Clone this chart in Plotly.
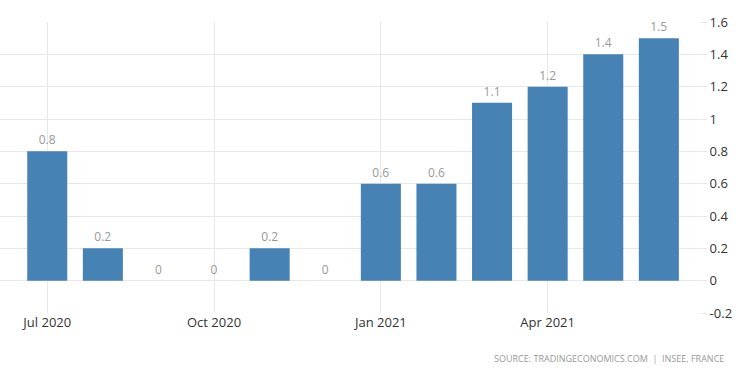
import plotly.graph_objects as go

months = ["Jul 2020", "Aug 2020", "Sep 2020", "Oct 2020", "Nov 2020", "Dec 2020",
          "Jan 2021", "Feb 2021", "Mar 2021", "Apr 2021", "May 2021", "Jun 2021"]
values = [0.8, 0.2, 0, 0, 0.2, 0, 0.6, 0.6, 1.1, 1.2, 1.4, 1.5]
x_ticks = ["Jul 2020", "Oct 2020", "Jan 2021", "Apr 2021"]
y_ticks = [-0.2, 0, 0.2, 0.4, 0.6, 0.8, 1, 1.2, 1.4, 1.6]

fig = go.Figure()
fig.add_trace(go.Bar(
    x=months, y=values,
    marker=dict(color="#4682B4", line=dict(width=0)),
    text=[f"{v:g}" for v in values],
    textposition="outside",
    cliponaxis=False,
    textfont=dict(color="#999999", size=12, family="Open Sans"),
))

fig.update_layout(
    width=750, height=375,
    margin=dict(l=0, r=50, t=22, b=62),
    plot_bgcolor="white", paper_bgcolor="white",
    bargap=0.28,
    showlegend=False,
    font=dict(family="Open Sans", color="#333333"),
    xaxis=dict(
        type="category",
        categoryorder="array", categoryarray=months,
        range=[-0.85, 11.74],
        tickmode="array", tickvals=x_ticks, ticktext=x_ticks,
        showgrid=True, gridcolor="#e8e8e8", gridwidth=1,
        showline=False, zeroline=False,
        ticks="", tickfont=dict(size=13, color="#333333", family="Open Sans"),
    ),
    yaxis=dict(
        side="right",
        range=[-0.2, 1.6],
        tickmode="array", tickvals=y_ticks, ticktext=[f"{v:g}" for v in y_ticks],
        showgrid=True, gridcolor="#e8e8e8", gridwidth=1,
        zeroline=False, showline=False,
        ticks="outside", ticklen=6, tickcolor="#e8e8e8",
        tickfont=dict(size=13, color="#333333", family="Open Sans"),
    ),
    annotations=[dict(
        text="SOURCE: TRADINGECONOMICS.COM  |  INSEE, FRANCE",
        xref="paper", yref="paper", x=1.037, y=-0.155,
        xanchor="right", yanchor="middle", showarrow=False,
        font=dict(size=9, color="#999999", family="Open Sans"),
    )],
)

fig.write_html(
    "out.html",
    config={"displayModeBar": False},
    post_script="document.body.style.margin='0';document.body.style.padding='0';",
)
